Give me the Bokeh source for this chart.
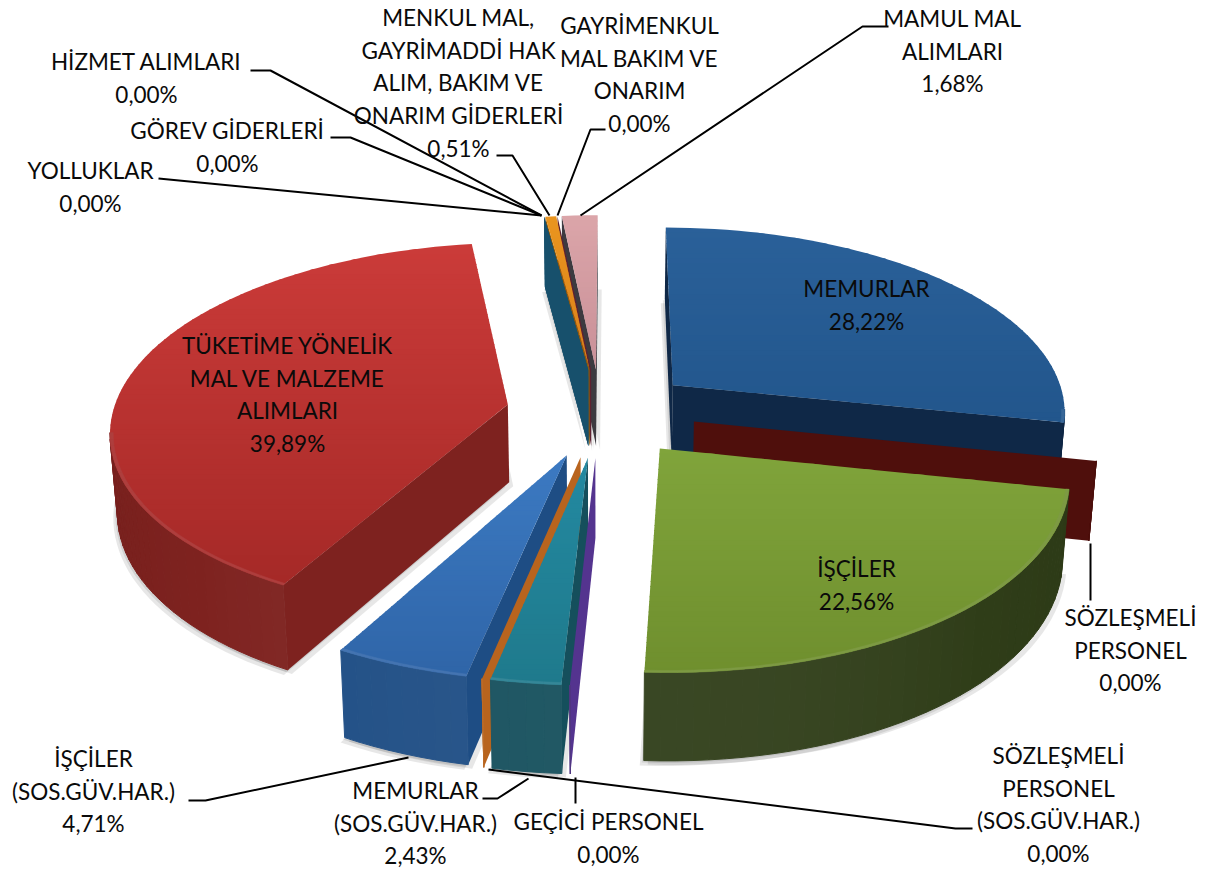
import math
from bokeh.plotting import figure
from bokeh.models import ColumnDataSource
from bokeh.core.properties import value
from bokeh.embed import file_html
from bokeh.resources import INLINE

# ---- data -------------------------------------------------------------
names = ["MEMURLAR", "SÖZLEŞMELİ\nPERSONEL", "İŞÇİLER", "GEÇİCİ PERSONEL",
         "MEMURLAR\n(SOS.GÜV.HAR.)", "SÖZLEŞMELİ\nPERSONEL\n(SOS.GÜV.HAR.)",
         "İŞÇİLER\n(SOS.GÜV.HAR.)", "TÜKETİME YÖNELİK\nMAL VE MALZEME\nALIMLARI",
         "YOLLUKLAR", "GÖREV GİDERLERİ", "HİZMET ALIMLARI",
         "MENKUL MAL,\nGAYRİMADDİ HAK\nALIM, BAKIM VE\nONARIM GİDERLERİ",
         "GAYRİMENKUL\nMAL BAKIM VE\nONARIM", "MAMUL MAL\nALIMLARI"]
shares = [28.22, 0.00, 22.56, 0.00, 2.43, 0.00, 4.71, 39.89, 0.00, 0.00, 0.00, 0.51, 0.00, 1.68]

# ---- styling / layout --------------------------------------------------
top_hi = ["#2a6099", "#4f0f0c", "#80a43b", "#54348f", "#2389a1", "#b8641e", "#3c7ac2",
          "#cb3b39", "#17506c", "#17506c", "#17506c", "#ea951f", "#5e2030", "#dba5a9"]
top_lo = ["#22568c", "#4f0f0c", "#6f8f2e", "#54348f", "#1f7a8c", "#b8641e", "#2f65a8",
          "#a52927", "#17506c", "#17506c", "#17506c", "#d9801a", "#5e2030", "#c99098"]
side = ["#0f2847", "#4f0f0c", "#2f3d18", "#472c7a", "#154f5c", "#b8641e", "#1e4d84",
        "#7e221f", "#17506c", "#17506c", "#17506c", "#8a5a10", "#5e2030", "#3c3a40"]
label_xy = [(866, 288), (1130, 617), (856, 568), (608, 821), (415, 790), (1058, 755), (93, 758),
            (287, 345), (90, 170), (227, 130), (146, 61), (458, 17), (639, 25), (952, 18)]
LINE_H = 32.7
leaders = [[(1090, 543), (1090, 600)], [(575, 777), (575, 803)], [(528, 778), (497, 798), (482, 798)],
           [(488, 769), (955, 828), (972, 828)], [(408, 757), (205, 800), (188, 800)],
           [(158, 178), (541, 215)], [(330, 137), (350, 137), (541, 215)],
           [(250, 70), (270, 70), (541, 215)], [(496, 155), (512, 155), (549, 215)],
           [(605, 129), (590, 129), (557, 215)], [(888, 26), (862, 26), (580, 215)]]

CX, CY, A, B, K, H, S, EXPL, START = 600.0, 412.0, 395.0, 184.7, 0.13, 78.0, 0.985, 0.24, 0.2


def proj(X, Z, low=False):
    w = 1 - K * Z
    sx, sy = CX + A * X / w, CY + B * Z / w
    if low:
        sx, sy = CX + (sx - CX) * S, CY + (sy - CY) * S + H / w
    return sx, sy


def mix(c1, c2, t):
    a = [int(c1[i:i + 2], 16) for i in (1, 3, 5)]
    b = [int(c2[i:i + 2], 16) for i in (1, 3, 5)]
    return "#%02x%02x%02x" % tuple(max(0, min(255, round(p + (q - p) * t))) for p, q in zip(a, b))


def shade(c, f):
    return mix(c, "#ffffff", f - 1) if f > 1 else mix(c, "#000000", 1 - f)


extent, acc = [], START
for v in shares:
    a0 = acc
    acc += v * 3.6
    extent.append((a0, acc))


def apex(i):
    a0, a1 = extent[i]
    m = math.radians((a0 + a1) / 2)
    return EXPL * math.sin(m), -EXPL * math.cos(m)


def rim(i, deg):
    ax, az = apex(i)
    r = math.radians(deg)
    return ax + math.sin(r), az - math.cos(r)


def cam_sees(px, pz, nx, nz):
    return (0 - px) * nx + (1 / K - pz) * nz > 0


polys = {"x": [], "y": [], "c": [], "la": []}


def put(pts, c, stroke=0.0):
    polys["x"].append([q[0] for q in pts])
    polys["y"].append([q[1] for q in pts])
    polys["c"].append(c)
    polys["la"].append(stroke)


def plane(i, deg, c):
    ax, az = apex(i)
    rx, rz = rim(i, deg)
    put([proj(ax, az), proj(rx, rz), proj(rx, rz, True), proj(ax, az, True)], c)


def faces(i):
    a0, a1 = extent[i]
    if a1 == a0:
        plane(i, a0, top_hi[i])
        return
    ax, az = apex(i)
    r0, r1 = math.radians(a0), math.radians(a1)
    if cam_sees(ax, az, -math.cos(r0), -math.sin(r0)):
        plane(i, a0, side[i])
    if cam_sees(ax, az, math.cos(r1), math.sin(r1)):
        plane(i, a1, side[i])


def outer(i):
    a0, a1 = extent[i]
    n = max(2, int((a1 - a0) / 2))
    for j in range(n):
        d0 = a0 + (a1 - a0) * j / n
        d1 = a0 + (a1 - a0) * (j + 1) / n
        dm = math.radians((d0 + d1) / 2)
        px, pz = rim(i, (d0 + d1) / 2)
        if cam_sees(px, pz, math.sin(dm), -math.cos(dm)):
            p0, p1 = rim(i, d0), rim(i, d1)
            f = 1.0 + 0.05 * math.cos(dm * 2)
            put([proj(*p0), proj(*p1), proj(*p1, True), proj(*p0, True)], shade(side[i], f), 1.0)


def clip_band(pts, y0, y1):
    def clip(poly, keep, cross):
        out = []
        for a, b in zip(poly, poly[1:] + poly[:1]):
            if keep(a):
                out.append(a)
            if keep(a) != keep(b):
                t = (cross - a[1]) / (b[1] - a[1])
                out.append((a[0] + (b[0] - a[0]) * t, cross))
        return out
    res = clip(pts, lambda q: q[1] >= y0, y0)
    return clip(res, lambda q: q[1] <= y1, y1) if res else res


def top(i):
    a0, a1 = extent[i]
    if a1 == a0:
        return
    n = max(2, int((a1 - a0) / 2))
    ax, az = apex(i)
    outline = [proj(ax, az)] + [proj(*rim(i, a0 + (a1 - a0) * j / n)) for j in range(n + 1)]
    ys = [q[1] for q in outline]
    ymin, ymax = min(ys), max(ys)
    bands = max(2, int((ymax - ymin) / 5))
    h = (ymax - ymin) / bands
    for b in range(bands):
        y0 = ymin + b * h
        piece = clip_band(outline, y0, y0 + h + 1.0)
        if len(piece) >= 3:
            put(piece, mix(top_hi[i], top_lo[i], (b + 0.5) / bands))
    for j in range(n):
        d0 = a0 + (a1 - a0) * j / n
        d1 = a0 + (a1 - a0) * (j + 1) / n
        dm = math.radians((d0 + d1) / 2)
        px, pz = rim(i, (d0 + d1) / 2)
        if cam_sees(px, pz, math.sin(dm), -math.cos(dm)):
            t = 0.992
            q0, q1 = rim(i, d0), rim(i, d1)
            i0 = (ax + (q0[0] - ax) * t, az + (q0[1] - az) * t)
            i1 = (ax + (q1[0] - ax) * t, az + (q1[1] - az) * t)
            c = shade(top_lo[i], 1.10)
            put([proj(*i0), proj(*q0), proj(*q1), proj(*i1)], c, 0.5)


shadow = {"x": [], "y": []}
for i, v in enumerate(shares):
    if v > 0:
        a0, a1 = extent[i]
        n = max(2, int((a1 - a0) / 2))
        pts = [proj(*apex(i), True)] + [proj(*rim(i, a0 + (a1 - a0) * j / n), True) for j in range(n + 1)]
        for dx, dy in ((-4, 5), (4, 4), (-2, 2)):
            shadow["x"].append([q[0] + dx for q in pts])
            shadow["y"].append([q[1] + dy for q in pts])

for i in (13, 12, 11, 10, 9, 8):
    faces(i)
for i in (11, 13):
    top(i)
for i in (0, 7, 1, 2, 6, 5, 4, 3):
    faces(i)
    outer(i)
    top(i)

p = figure(width=1205, height=871, x_range=(0, 1205), y_range=(871, 0), toolbar_location=None,
           output_backend="svg", min_border=0, outline_line_color=None, background_fill_color="white")
p.axis.visible = False
p.grid.visible = False

p.patches("x", "y", source=ColumnDataSource(shadow), fill_color="#555555", fill_alpha=0.14, line_color=None)
p.patches("x", "y", source=ColumnDataSource(polys), fill_color="c", line_color="c", line_alpha="la", line_width=1)
p.multi_line([[q[0] for q in l] for l in leaders], [[q[1] for q in l] for l in leaders],
             line_color="#000000", line_width=2)

tx, ty, tt = [], [], []
for name, v, (x, y) in zip(names, shares, label_xy):
    lines = name.split("\n") + [f"{v:.2f}".replace(".", ",") + "%"]
    for k, s in enumerate(lines):
        tx.append(x)
        ty.append(y + k * LINE_H)
        tt.append(s)
p.text(tx, ty, text=tt, text_font=value("Lato"), text_font_size="22.5px", text_color="#0a0a0a",
       text_align="center", text_baseline="middle")

open("out.html", "w").write(file_html(p, INLINE))
